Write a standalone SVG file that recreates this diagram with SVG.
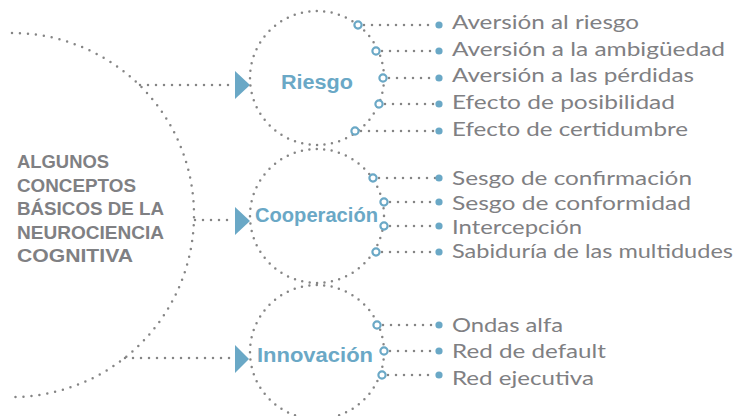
<svg xmlns="http://www.w3.org/2000/svg" width="735" height="416" viewBox="0 0 735 416">
<style>
.dot{fill:none;stroke:#858585;stroke-width:2.5;stroke-linecap:round;stroke-dasharray:0 8}
.ring{fill:none;stroke:#858585;stroke-width:2.5;stroke-linecap:round;stroke-dasharray:0 7.5}
.open{fill:#fff;stroke:#6aa8c6;stroke-width:2.2}
.fill{fill:#6aa8c6}
.arrow{fill:#6aa8c6}
.item{font-family:Lato,"Liberation Sans",sans-serif;font-size:19.5px;fill:#7f8083}
.label{font-family:"Liberation Sans",Arial,sans-serif;font-weight:bold;font-size:20px;fill:#6aa8c6;text-anchor:middle}
.title{font-family:"Liberation Sans",Arial,sans-serif;font-weight:bold;font-size:17.5px;fill:#7f8083}
</style>
<rect width="735" height="416" fill="#fff"/>

<g id="connectors">
<path class="dot" d="M12,33 A182,182 0 0 1 12,397"/>
<path class="dot" d="M140,85 H233"/>
<path class="dot" d="M195,220 H233"/>
<path class="dot" d="M125,358 H233"/>
<polygon class="arrow" points="235,71 250,85 235,99"/>
<polygon class="arrow" points="235,207 250,221 235,235"/>
<polygon class="arrow" points="235,345 249,359 235,373"/>
<path class="dot" d="M364,25 H436"/>
<path class="dot" d="M382,51 H436"/>
<path class="dot" d="M389,78 H436"/>
<path class="dot" d="M385,104 H436"/>
<path class="dot" d="M361,131 H436"/>
<path class="dot" d="M379,178 H436"/>
<path class="dot" d="M390,202 H436"/>
<path class="dot" d="M390,226 H436"/>
<path class="dot" d="M382,252 H436"/>
<path class="dot" d="M383,325 H436"/>
<path class="dot" d="M390,351 H436"/>
<path class="dot" d="M388,375 H436"/>
</g>

<g id="title">
<text class="title" x="17" y="168" textLength="92" lengthAdjust="spacingAndGlyphs">ALGUNOS</text>
<text class="title" x="17" y="192" textLength="119" lengthAdjust="spacingAndGlyphs">CONCEPTOS</text>
<text class="title" x="17" y="215" textLength="147" lengthAdjust="spacingAndGlyphs">BÁSICOS DE LA</text>
<text class="title" x="17" y="239" textLength="147" lengthAdjust="spacingAndGlyphs">NEUROCIENCIA</text>
<text class="title" x="17" y="262" textLength="116" lengthAdjust="spacingAndGlyphs">COGNITIVA</text>
</g>

<g id="riesgo">
<circle class="ring" cx="317" cy="78" r="67"/>
<text class="label" x="317" y="89" textLength="72" lengthAdjust="spacingAndGlyphs">Riesgo</text>
<circle class="open" cx="358" cy="25" r="3.6"/>
<circle class="open" cx="376" cy="51" r="3.6"/>
<circle class="open" cx="383" cy="78" r="3.6"/>
<circle class="open" cx="379" cy="104" r="3.6"/>
<circle class="open" cx="355" cy="131" r="3.6"/>
</g>

<g id="cooperacion">
<circle class="ring" cx="317" cy="216" r="67"/>
<text class="label" x="316.5" y="222" textLength="123" lengthAdjust="spacingAndGlyphs">Cooperación</text>
<circle class="open" cx="373" cy="178" r="3.6"/>
<circle class="open" cx="384" cy="202" r="3.6"/>
<circle class="open" cx="384" cy="226" r="3.6"/>
<circle class="open" cx="376" cy="252" r="3.6"/>
</g>

<g id="innovacion">
<circle class="ring" cx="317" cy="352" r="67"/>
<text class="label" x="315" y="362" textLength="116" lengthAdjust="spacingAndGlyphs">Innovación</text>
<circle class="open" cx="377" cy="325" r="3.6"/>
<circle class="open" cx="384" cy="351" r="3.6"/>
<circle class="open" cx="382" cy="375" r="3.6"/>
</g>

<g id="item-aversion-riesgo"><circle class="fill" cx="439" cy="25" r="3.6"/><text class="item" x="452" y="29" textLength="187" lengthAdjust="spacingAndGlyphs">Aversión al riesgo</text></g>
<g id="item-aversion-ambiguedad"><circle class="fill" cx="439" cy="51" r="3.6"/><text class="item" x="452" y="56" textLength="273" lengthAdjust="spacingAndGlyphs">Aversión a la ambigüedad</text></g>
<g id="item-aversion-perdidas"><circle class="fill" cx="439" cy="78" r="3.6"/><text class="item" x="452" y="82" textLength="242" lengthAdjust="spacingAndGlyphs">Aversión a las pérdidas</text></g>
<g id="item-efecto-posibilidad"><circle class="fill" cx="439" cy="104" r="3.6"/><text class="item" x="452" y="109" textLength="223" lengthAdjust="spacingAndGlyphs">Efecto de posibilidad</text></g>
<g id="item-efecto-certidumbre"><circle class="fill" cx="439" cy="131" r="3.6"/><text class="item" x="452" y="136" textLength="236" lengthAdjust="spacingAndGlyphs">Efecto de certidumbre</text></g>

<g id="item-sesgo-confirmacion"><circle class="fill" cx="439" cy="178" r="3.6"/><text class="item" x="452" y="185" textLength="240" lengthAdjust="spacingAndGlyphs">Sesgo de confirmación</text></g>
<g id="item-sesgo-conformidad"><circle class="fill" cx="439" cy="202" r="3.6"/><text class="item" x="452" y="210" textLength="239" lengthAdjust="spacingAndGlyphs">Sesgo de conformidad</text></g>
<g id="item-intercepcion"><circle class="fill" cx="439" cy="226" r="3.6"/><text class="item" x="452" y="234" textLength="130" lengthAdjust="spacingAndGlyphs">Intercepción</text></g>
<g id="item-sabiduria"><circle class="fill" cx="439" cy="252" r="3.6"/><text class="item" x="452" y="258" textLength="281" lengthAdjust="spacingAndGlyphs">Sabiduría de las multidudes</text></g>

<g id="item-ondas-alfa"><circle class="fill" cx="439" cy="325" r="3.6"/><text class="item" x="452" y="332" textLength="111" lengthAdjust="spacingAndGlyphs">Ondas alfa</text></g>
<g id="item-red-default"><circle class="fill" cx="439" cy="351" r="3.6"/><text class="item" x="452" y="358" textLength="154" lengthAdjust="spacingAndGlyphs">Red de default</text></g>
<g id="item-red-ejecutiva"><circle class="fill" cx="439" cy="375" r="3.6"/><text class="item" x="452" y="385" textLength="142" lengthAdjust="spacingAndGlyphs">Red ejecutiva</text></g>
</svg>
